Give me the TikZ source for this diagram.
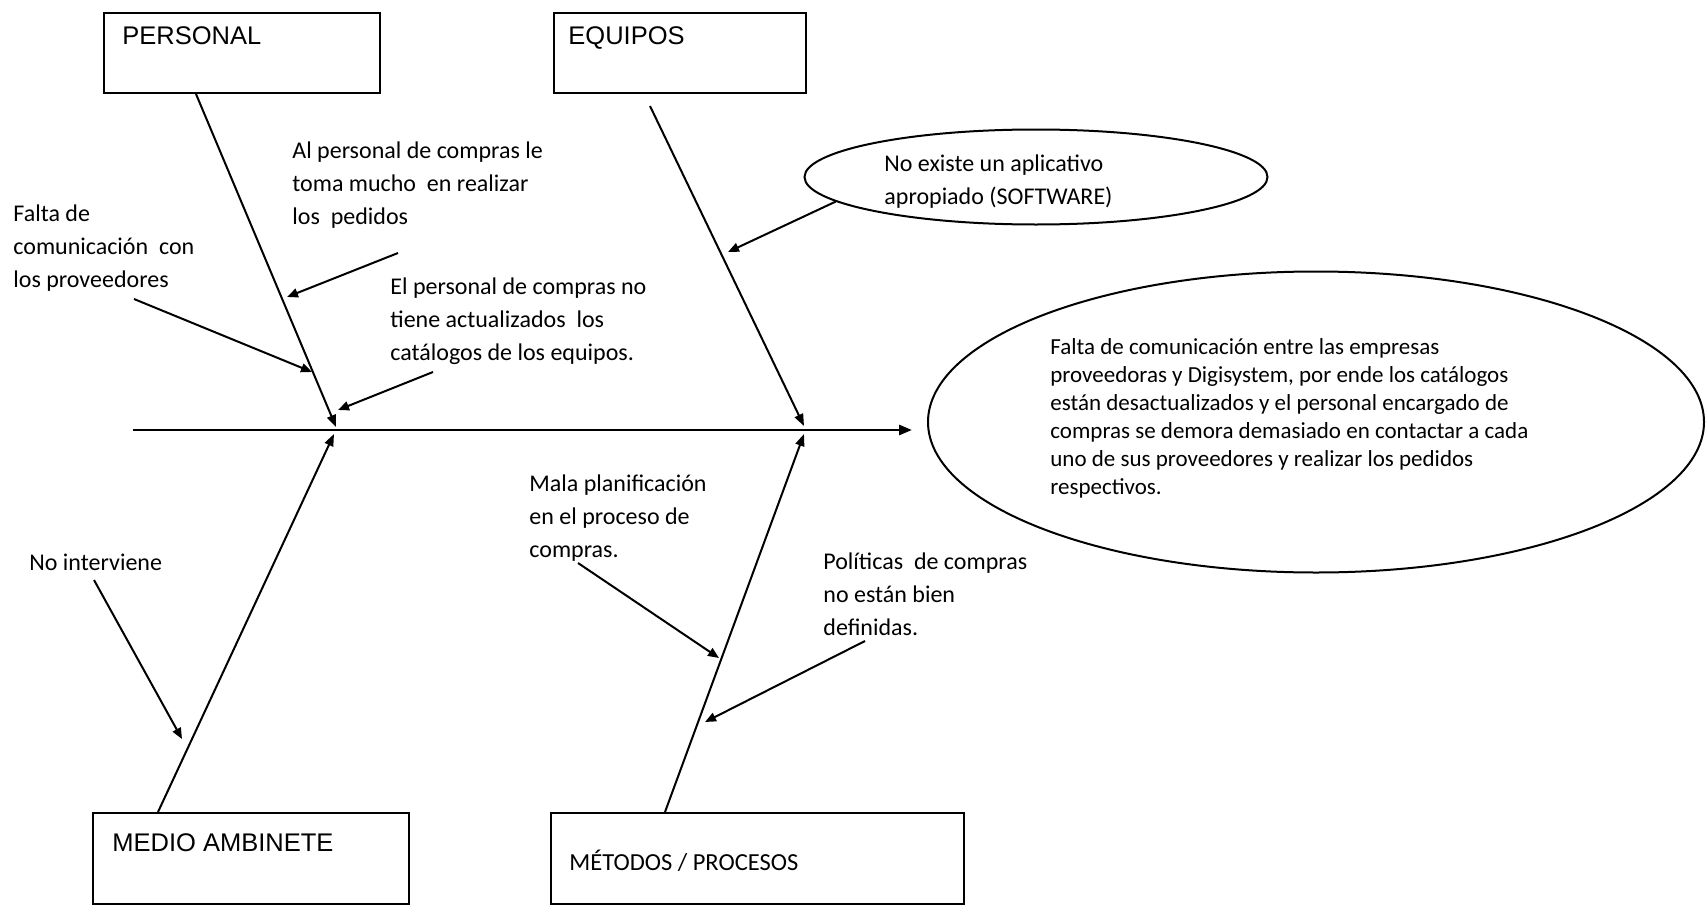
\documentclass[tikz,border=0pt]{standalone}
\usepackage{fontspec}
\setmainfont{Carlito}
\newfontfamily\arialf{Liberation Sans}
\usetikzlibrary{arrows.meta,shapes.geometric,calc}
\begin{document}
\begin{tikzpicture}[x=0.5pt,y=-0.5pt,
  box/.style={draw, line width=1pt, inner sep=0pt, anchor=north west},
  lbl/.style={anchor=base west, inner sep=0pt, align=left, font=\fontsize{12}{16.5}\selectfont},
  ttl/.style={anchor=base west, inner sep=0pt, font=\arialf\fontsize{12.75}{15}\selectfont},
  bone/.style={line width=1pt, -{Triangle[length=6pt,width=4.5pt]}},
  subarrow/.style={line width=1pt, -{Triangle[length=5.5pt,width=4.5pt]}},
  spine/.style={line width=1.4pt, -{Triangle[length=6.5pt,width=5pt]}},
  ell/.style={draw, ellipse, line width=1pt, inner sep=0pt}
]
\useasboundingbox (0,0) rectangle (1706,904);

% category boxes
\node[box, minimum width=138pt, minimum height=40pt] (personal) at (103,12) {};
\node[box, minimum width=126pt, minimum height=40pt] (equipos) at (553,12) {};
\node[box, minimum width=158pt, minimum height=45.5pt] (medio) at (92,812) {};
\node[box, minimum width=206.5pt, minimum height=45.5pt] (metodos) at (550,812) {};

\node[ttl] (tpersonal) at (122,45) {PERSONAL};
\node[ttl] (tequipos) at (568,45) {EQUIPOS};
\node[ttl] (tmedio) at (112,851) {MEDIO AMBINETE};
\node[anchor=base west, inner sep=0pt, font=\fontsize{12.25}{15}\selectfont] (tmetodos) at (569,870) {MÉTODOS / PROCESOS};

% ellipses
\node[ell, minimum width=231.5pt, minimum height=47.5pt] (sw) at (1036,177) {};
\node[lbl] (tsw) at (884,204) {No existe un aplicativo\\apropiado (SOFTWARE)};
\node[ell, minimum width=388pt, minimum height=150.5pt] (effect) at (1316,422) {};
\node[anchor=base west, inner sep=0pt, align=left, font=\fontsize{11.5}{14}\selectfont] (teffect) at (1050,494)
 {Falta de comunicación entre las empresas\\proveedoras y Digisystem, por ende los catálogos\\están desactualizados y el personal encargado de\\compras se demora demasiado en contactar a cada\\uno de sus proveedores y realizar los pedidos\\respectivos.};

% spine
\coordinate (stail) at (133,430);
\coordinate (shead) at (912,430);
\draw[spine] (stail) -- (shead);

% bones
\coordinate (pend) at (336,427);
\coordinate (estart) at (650,106);
\coordinate (eend) at (804,426);
\coordinate (mend) at (334,434);
\coordinate (tend) at (804,434);
\draw[bone] ($(personal.south west)+(93,0)$) -- (pend);
\draw[bone] (estart) -- (eend);
\draw[bone] ($(medio.north west)+(66,0)$) -- (mend);
\draw[bone] ($(metodos.north west)+(115,0)$) -- (tend);

% cause labels
\node[lbl] (tfalta) at (13,287) {Falta de\\comunicación \ con\\los proveedores};
\node[lbl] (talper) at (292,224) {Al personal de compras le\\toma mucho \ en realizar\\los \ pedidos};
\node[lbl] (telper) at (390,360) {El personal de compras no\\tiene actualizados \ los\\catálogos de los equipos.};
\node[lbl] (tnoint) at (29,570) {No interviene};
\node[lbl] (tmala) at (529,557) {Mala planificación\\en el proceso de\\compras.};
\node[lbl] (tpolit) at (823,635) {Políticas \ de compras\\no están bien\\definidas.};

% cause arrows
\coordinate (a1s) at (134,299); \coordinate (a1e) at (312,372);
\coordinate (a2s) at (398,253); \coordinate (a2e) at (287,297);
\coordinate (a3s) at (433,372); \coordinate (a3e) at (338,410);
\coordinate (a4e) at (728,252);
\coordinate (a5s) at (94,580);  \coordinate (a5e) at (182,739);
\coordinate (a6s) at (578,563); \coordinate (a6e) at (719,658);
\coordinate (a7s) at (865,641); \coordinate (a7e) at (705,722);
\draw[subarrow] (a1s) -- (a1e);
\draw[subarrow] (a2s) -- (a2e);
\draw[subarrow] (a3s) -- (a3e);
\draw[subarrow] (sw.187) -- (a4e);
\draw[subarrow] (a5s) -- (a5e);
\draw[subarrow] (a6s) -- (a6e);
\draw[subarrow] (a7s) -- (a7e);
\end{tikzpicture}
\end{document}
